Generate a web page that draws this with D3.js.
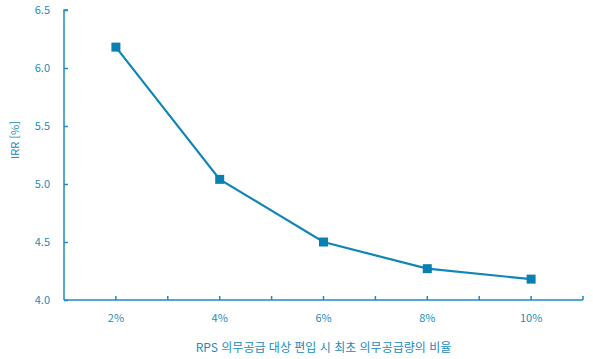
<!DOCTYPE html>
<html lang="ko">
<head>
<meta charset="utf-8">
<script src="https://d3js.org/d3.v7.min.js"></script>
<style>
  body { margin: 0; background: #fff; }
  text { font-family: "Noto Sans CJK KR", "Noto Sans", sans-serif; fill: #1b8cbc; }
</style>
</head>
<body>
<div id="chart"></div>
<script>
// Data
var categories = ["2%", "4%", "6%", "8%", "10%"];
var irrValues = [6.18, 5.04, 4.50, 4.27, 4.18];
var yTicks = [4.0, 4.5, 5.0, 5.5, 6.0, 6.5];

var W = 593, H = 359;
var margin = { top: 10, right: 10, bottom: 59, left: 64 };
var axisColor = "#1b8cbc", lineColor = "#0f86b6";

var svg = d3.select("#chart").append("svg")
  .attr("width", W).attr("height", H);

var x = d3.scaleBand().domain(categories)
  .range([margin.left, W - margin.right]);
var y = d3.scaleLinear().domain([4.0, 6.5])
  .range([H - margin.bottom, margin.top]);

// Y axis
var yAxis = svg.append("g")
  .attr("transform", "translate(" + margin.left + ",0)")
  .call(d3.axisLeft(y).tickValues(yTicks).tickFormat(d3.format(".1f")).tickSize(-4).tickPadding(14));
yAxis.select(".domain").attr("stroke", axisColor).attr("stroke-width", 1.5).attr("d",
  "M4," + y(6.5) + "H0V" + y(4.0));
yAxis.selectAll(".tick line").attr("stroke", axisColor).attr("stroke-width", 1.5);
yAxis.selectAll(".tick text").style("fill", axisColor).style("font-size", "11px");

// X axis
var xAxis = svg.append("g")
  .attr("transform", "translate(0," + y(4.0) + ")")
  .call(d3.axisBottom(x).tickSize(-4).tickPadding(14));
xAxis.select(".domain").attr("stroke", axisColor).attr("stroke-width", 1.5)
  .attr("d", "M" + margin.left + ",0H" + (W - margin.right));
xAxis.selectAll(".tick line").attr("stroke", axisColor).attr("stroke-width", 1.5);
xAxis.selectAll(".tick text").style("fill", axisColor).style("font-size", "11px");

// boundary ticks between categories
var bounds = categories.map(function (c) { return x(c) + x.bandwidth(); });
xAxis.selectAll(".btick").data(bounds).enter().append("line")
  .attr("class", "btick")
  .attr("x1", function (d) { return d; }).attr("x2", function (d) { return d; })
  .attr("y1", 0).attr("y2", -4)
  .attr("stroke", axisColor).attr("stroke-width", 1.5);

// Line
var pts = categories.map(function (c, i) { return { c: c, v: irrValues[i] }; });
var line = d3.line()
  .x(function (d) { return x(d.c) + x.bandwidth() / 2; })
  .y(function (d) { return y(d.v); });
svg.append("path").datum(pts)
  .attr("d", line).attr("fill", "none")
  .attr("stroke", lineColor).attr("stroke-width", 2.2);

var ms = 9;
svg.selectAll(".marker").data(pts).enter().append("rect")
  .attr("class", "marker")
  .attr("x", function (d) { return x(d.c) + x.bandwidth() / 2 - ms / 2; })
  .attr("y", function (d) { return y(d.v) - ms / 2; })
  .attr("width", ms).attr("height", ms)
  .attr("fill", "#0a7fb2");

// Axis titles
svg.append("text")
  .attr("transform", "translate(19," + 140 + ") rotate(-90)")
  .attr("text-anchor", "middle")
  .style("font-size", "11px")
  .text("IRR [%]");

svg.append("text")
  .attr("x", (margin.left + W - margin.right) / 2)
  .attr("y", 352)
  .attr("text-anchor", "middle")
  .style("font-size", "12px")
  .text("RPS 의무공급 대상 편입 시 최초 의무공급량의 비율");
</script>
</body>
</html>
